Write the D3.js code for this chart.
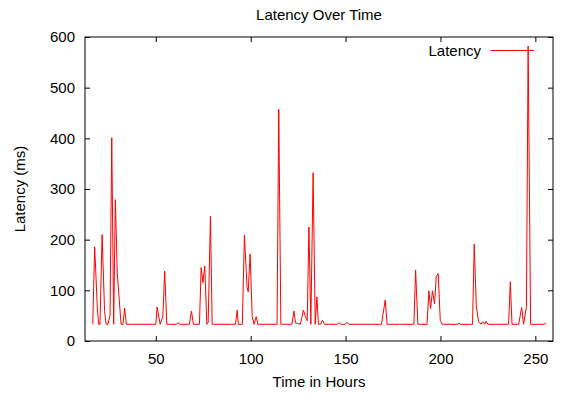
<!DOCTYPE html>
<html>
<head>
<meta charset="utf-8">
<script src="https://cdn.jsdelivr.net/npm/d3@7/dist/d3.min.js"></script>
<style>
  html, body { margin: 0; padding: 0; background: #ffffff; }
  svg { display: block; font-family: "Liberation Sans", Arial, sans-serif; }
</style>
</head>
<body>
<div id="chart"></div>
<script>
"use strict";

/********/
/* data */
/********/

const hours = [
  16.8, 17.8, 19.2, 19.9, 20.6, 21.7, 23.0, 23.8, 24.8, 25.9, 26.8, 27.8,
  28.7, 29.7, 31.7, 32.7, 33.6, 34.5, 50.0, 50.7, 52.3, 53.7, 54.7, 55.8,
  61.0, 61.7, 62.8, 67.7, 68.8, 69.8, 73.0, 73.9, 74.8, 75.8, 76.9, 77.6,
  78.8, 79.7, 92.0, 92.9, 93.5, 95.6, 96.7, 98.1, 98.7, 99.7, 100.8, 101.8,
  102.9, 103.8, 113.9, 114.8, 115.9, 121.7, 122.8, 123.6, 126.2, 127.8,
  128.9, 129.8, 130.7, 131.7, 132.9, 134.0, 134.9, 135.7, 136.8, 137.8,
  138.9, 145.6, 146.6, 147.7, 149.8, 150.7, 151.6, 168.9, 170.9, 171.9,
  186.0, 186.9, 188.1, 192.9, 193.9, 194.8, 195.8, 196.9, 197.8, 198.8,
  199.9, 200.9, 208.9, 209.8, 210.7, 216.9, 217.8, 218.9, 220.1, 221.4,
  222.2, 223.3, 224.0, 225.0, 235.9, 236.8, 237.7, 241.2, 242.8, 243.8,
  245.3, 246.2, 247.5, 254.5, 255.3, 255.8,
];

const latency = [
  33, 186, 65, 33, 33, 210, 60, 33, 33, 51, 401, 33,
  279, 134, 33, 33, 65, 33, 33, 67, 33, 48, 138, 33,
  33, 36, 33, 33, 59, 33, 33, 145, 115, 148, 33, 36,
  246, 33, 33, 61, 33, 33, 209, 106, 97, 172, 48, 33,
  48, 33, 33, 457, 33, 33, 59, 36, 33, 61,
  48, 40, 225, 33, 332, 33, 87, 33, 33, 41,
  33, 33, 36, 33, 33, 37, 33, 33, 81, 33,
  33, 140, 33, 33, 99, 64, 99, 73, 128, 133,
  41, 33, 33, 35, 33, 33, 191, 68, 38, 33,
  38, 33, 39, 33, 33, 117, 33, 33, 66, 33,
  68, 582, 33, 33, 35, 33,
];

const xTicks = [50, 100, 150, 200, 250];
const yTicks = [0, 100, 200, 300, 400, 500, 600];

/********/
/* view */
/********/

const width = 562;
const height = 394;
const margin = { top: 37, right: 9, bottom: 53, left: 85 };
const tickLen = 5;
const fontSize = 15;

const points = hours.map((h, i) => ({ h: h, v: latency[i] }));

const x = d3
  .scaleLinear()
  .domain([12.7, 259.3])
  .range([margin.left, width - margin.right]);

const y = d3
  .scaleLinear()
  .domain([0, 600])
  .range([height - margin.bottom, margin.top]);

const svg = d3
  .select("#chart")
  .append("svg")
  .attr("width", width)
  .attr("height", height);

// data line
const line = d3
  .line()
  .x(d => x(d.h))
  .y(d => y(d.v));

svg
  .append("path")
  .datum(points)
  .attr("d", line)
  .attr("fill", "none")
  .attr("stroke", "#ff0000")
  .attr("stroke-width", 1);

// axes with inward ticks, mirrored on top and right
const axisB = svg
  .append("g")
  .attr("transform", `translate(0,${height - margin.bottom})`)
  .call(d3.axisBottom(x).tickValues(xTicks).tickSizeInner(-tickLen).tickSizeOuter(0).tickPadding(12));

const axisT = svg
  .append("g")
  .attr("transform", `translate(0,${margin.top})`)
  .call(d3.axisTop(x).tickValues(xTicks).tickSizeInner(-tickLen).tickSizeOuter(0).tickFormat(""));

const axisL = svg
  .append("g")
  .attr("transform", `translate(${margin.left},0)`)
  .call(d3.axisLeft(y).tickValues(yTicks).tickSizeInner(-tickLen).tickSizeOuter(0).tickPadding(10));

const axisR = svg
  .append("g")
  .attr("transform", `translate(${width - margin.right},0)`)
  .call(d3.axisRight(y).tickValues(yTicks).tickSizeInner(-tickLen).tickSizeOuter(0).tickFormat(""));

[axisB, axisT, axisL, axisR].forEach(axis => {
  axis.select(".domain").remove();
  axis.selectAll("line").attr("stroke", "#000000");
  axis
    .selectAll("text")
    .attr("font-family", "Liberation Sans, Arial, sans-serif")
    .attr("font-size", fontSize)
    .attr("fill", "#000000");
});

// frame
svg
  .append("rect")
  .attr("x", margin.left)
  .attr("y", margin.top)
  .attr("width", width - margin.left - margin.right)
  .attr("height", height - margin.top - margin.bottom)
  .attr("fill", "none")
  .attr("stroke", "#000000")
  .attr("stroke-width", 1);

// title and axis labels
svg
  .append("text")
  .attr("x", (margin.left + width - margin.right) / 2)
  .attr("y", 20)
  .attr("text-anchor", "middle")
  .attr("font-size", fontSize)
  .text("Latency Over Time");

svg
  .append("text")
  .attr("x", (margin.left + width - margin.right) / 2)
  .attr("y", 387)
  .attr("text-anchor", "middle")
  .attr("font-size", fontSize)
  .text("Time in Hours");

svg
  .append("text")
  .attr("transform", `translate(25,${(margin.top + height - margin.bottom) / 2}) rotate(-90)`)
  .attr("text-anchor", "middle")
  .attr("font-size", fontSize)
  .text("Latency (ms)");

// legend
svg
  .append("text")
  .attr("x", 481)
  .attr("y", 50.5)
  .attr("dy", "0.35em")
  .attr("text-anchor", "end")
  .attr("font-size", fontSize)
  .text("Latency");

svg
  .append("line")
  .attr("x1", 491)
  .attr("x2", 534)
  .attr("y1", 50.5)
  .attr("y2", 50.5)
  .attr("stroke", "#ff0000")
  .attr("stroke-width", 1);
</script>
</body>
</html>
